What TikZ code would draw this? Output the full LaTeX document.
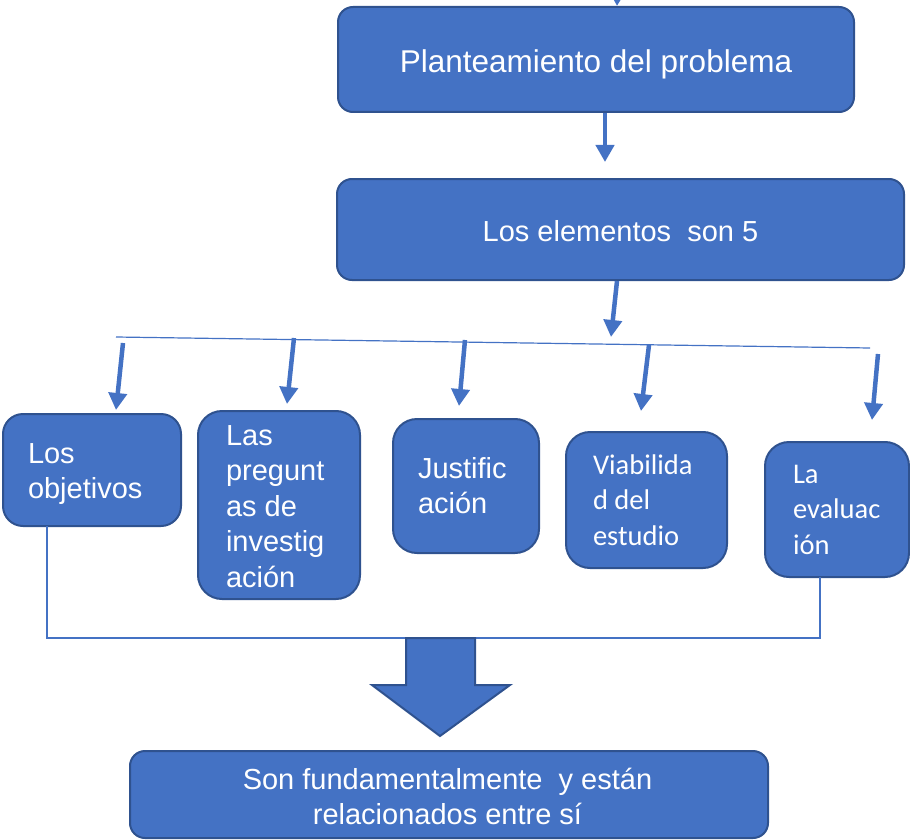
\documentclass[tikz,border=0pt]{standalone}
\usepackage{fontspec}
\setmainfont{Liberation Sans}
\newfontfamily\calib{Carlito}
\usetikzlibrary{arrows.meta}
\definecolor{boxfill}{HTML}{4472C4}
\definecolor{boxline}{HTML}{2F528F}
\begin{document}
\begin{tikzpicture}[x=1pt,y=-1pt,
  box/.style={draw=boxline, fill=boxfill, line width=2pt, rectangle, inner sep=0pt, outer sep=0pt, text=white},
  arr/.style={draw=boxfill, line width=4.5pt, -{Triangle[width=18pt,length=17pt]}},
  thinline/.style={draw=boxfill, line width=1.2pt},
  lbl/.style={text=white, inner sep=0pt, outer sep=0pt, anchor=north west, align=left, font=\fontsize{29}{35.5}\selectfont},
  lblc/.style={text=white, inner sep=0pt, outer sep=0pt, anchor=north west, align=left, font=\calib\fontsize{28.5}{35.5}\selectfont}
]
\useasboundingbox (0,0) rectangle (910,840);
\clip (0,0) rectangle (910,840);

% main boxes
\node[box, rounded corners=15pt, minimum width=516pt, minimum height=105pt] (p1) at (596,59.5) {};
\node[text=white, inner sep=0pt, font=\fontsize{31.5}{38}\selectfont, yshift=-5pt] (tp1) at (p1.center) {Planteamiento del problema};
\node[box, rounded corners=15pt, minimum width=567pt, minimum height=101pt] (p2) at (620.5,229.5) {};
\node[text=white, inner sep=0pt, font=\fontsize{29}{35}\selectfont, yshift=-2pt] (tp2) at (p2.center) {Los elementos\ \ son 5};

% element boxes
\node[box, rounded corners=20pt, minimum width=178pt, minimum height=112pt] (obj) at (92,470) {};
\node[box, rounded corners=24pt, minimum width=162pt, minimum height=188pt] (preg) at (279,505) {};
\node[box, rounded corners=24pt, minimum width=146pt, minimum height=134pt] (just) at (466,486) {};
\node[box, rounded corners=24pt, minimum width=161pt, minimum height=136pt] (viab) at (646.5,500) {};
\node[box, rounded corners=24pt, minimum width=144pt, minimum height=135pt] (eval) at (837,509.5) {};

\node[lbl] (tobj) at (28,438.15) {\strut Los\\objetivos};
\node[lbl] (tpreg) at (226,420.15) {\strut Las\\pregunt\\as de\\investig\\ación};
\node[lbl] (tjust) at (418,453.15) {\strut Justific\\ación};
\node[lblc] (tviab) at (593,449.15) {\strut Viabilida\\d del\\estudio};
\node[lblc] (teval) at (793,458.15) {\strut La\\evaluac\\ión};

% final box
\node[box, rounded corners=15pt, minimum width=638pt, minimum height=87pt] (fin) at (449,794.5) {};
\node[text=white, inner sep=0pt, align=center, anchor=north, font=\fontsize{29}{35}\selectfont] (tfin) at (447.5,765)
  {\strut Son fundamentalmente\ \ y están\\relacionados entre sí};

% arrows
\coordinate (tin) at (618,-30);
\coordinate (tout) at (617,6);
\draw[arr] (tin) -- (tout);

\coordinate (s1) at (605,113);
\coordinate (t1) at (605,162);
\draw[arr] (s1) -- (t1);

\coordinate (s2) at (617,281);
\coordinate (t2) at (611,337);
\draw[arr] (s2) -- (t2);

\coordinate (hl) at (116,337);
\coordinate (hr) at (870,348);
\draw[thinline] (hl) -- (hr);

\coordinate (a1s) at (123,343);  \coordinate (a1t) at (116,410);
\coordinate (a2s) at (294,338);  \coordinate (a2t) at (287,404);
\coordinate (a3s) at (465,340);  \coordinate (a3t) at (459,406);
\coordinate (a4s) at (649,345);  \coordinate (a4t) at (641,411);
\coordinate (a5s) at (878,354);  \coordinate (a5t) at (872,420);
\draw[arr] (a1s) -- (a1t);
\draw[arr] (a2s) -- (a2t);
\draw[arr] (a3s) -- (a3t);
\draw[arr] (a4s) -- (a4t);
\draw[arr] (a5s) -- (a5t);

% bracket
\coordinate (bl) at (47,638);
\coordinate (br) at (820,638);
\draw[thinline] (obj.south -| bl) -- (bl) -- (br) -- (eval.south -| br);

% block arrow
\draw[fill=boxfill, draw=boxline, line width=2pt, line join=miter]
  (406,638) -- (475,638) -- (475,685) -- (510,685) -- (440,736) -- (372,685) -- (406,685) -- cycle;
\end{tikzpicture}
\end{document}
